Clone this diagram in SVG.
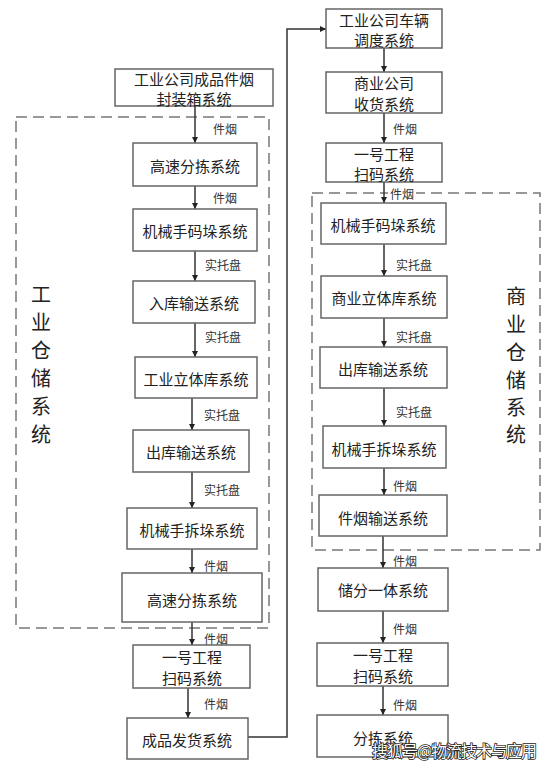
<svg xmlns="http://www.w3.org/2000/svg" width="554" height="768" viewBox="0 0 554 768">
<style>
.box{fill:#fff;stroke:#666;stroke-width:1.5}
.t{font-family:"Noto Sans CJK SC","Microsoft YaHei",sans-serif;font-size:15px;fill:#222;text-anchor:middle;dominant-baseline:central}
.l{font-family:"Noto Sans CJK SC","Microsoft YaHei",sans-serif;font-size:12px;fill:#333;dominant-baseline:central}
.v{font-family:"Noto Sans CJK SC","Microsoft YaHei",sans-serif;font-size:20px;fill:#222;text-anchor:middle;dominant-baseline:central}
.dash{fill:none;stroke:#777;stroke-width:1.5;stroke-dasharray:11 6}
.c{fill:none;stroke:#333;stroke-width:1.5}
.wm{font-family:"Noto Sans CJK SC","Microsoft YaHei",sans-serif;font-size:16px;fill:#fff;stroke:#222;stroke-width:1.6;paint-order:stroke}
</style>
<defs>
<marker id="ah" viewBox="0 0 10 10" refX="10" refY="5" markerWidth="6" markerHeight="6" markerUnits="userSpaceOnUse" orient="auto">
<path d="M0,0 L10,5 L0,10 z" fill="#222"/>
</marker>
</defs>
<rect width="554" height="768" fill="#fff"/>

<g id="groups">
<rect class="dash" x="16" y="117" width="253" height="511"/>
<rect class="dash" x="312" y="193" width="228" height="357"/>
<text class="v" x="41" y="293">工</text>
<text class="v" x="41" y="321">业</text>
<text class="v" x="41" y="349">仓</text>
<text class="v" x="41" y="377">储</text>
<text class="v" x="41" y="405">系</text>
<text class="v" x="41" y="433">统</text>
<text class="v" x="516" y="295">商</text>
<text class="v" x="516" y="323">业</text>
<text class="v" x="516" y="351">仓</text>
<text class="v" x="516" y="379">储</text>
<text class="v" x="516" y="406">系</text>
<text class="v" x="516" y="433">统</text>
</g>

<g id="connectors">
<line class="c" x1="195" y1="106" x2="195" y2="143" marker-end="url(#ah)"/>
<line class="c" x1="195" y1="186" x2="195" y2="209" marker-end="url(#ah)"/>
<line class="c" x1="195" y1="251" x2="195" y2="281" marker-end="url(#ah)"/>
<line class="c" x1="195" y1="323" x2="195" y2="357" marker-end="url(#ah)"/>
<line class="c" x1="192" y1="398" x2="192" y2="430" marker-end="url(#ah)"/>
<line class="c" x1="192" y1="472" x2="192" y2="508" marker-end="url(#ah)"/>
<line class="c" x1="192" y1="549" x2="192" y2="573" marker-end="url(#ah)"/>
<line class="c" x1="192" y1="622" x2="192" y2="645" marker-end="url(#ah)"/>
<line class="c" x1="188" y1="688" x2="188" y2="718" marker-end="url(#ah)"/>
<polyline class="c" points="248,737 287,737 287,29 326,29" marker-end="url(#ah)"/>
<line class="c" x1="384" y1="48" x2="384" y2="72" marker-end="url(#ah)"/>
<line class="c" x1="384" y1="113" x2="384" y2="143" marker-end="url(#ah)"/>
<line class="c" x1="384" y1="182" x2="384" y2="203" marker-end="url(#ah)"/>
<line class="c" x1="384" y1="244" x2="384" y2="276" marker-end="url(#ah)"/>
<line class="c" x1="384" y1="318" x2="384" y2="347" marker-end="url(#ah)"/>
<line class="c" x1="384" y1="388" x2="384" y2="426" marker-end="url(#ah)"/>
<line class="c" x1="384" y1="468" x2="384" y2="495" marker-end="url(#ah)"/>
<line class="c" x1="383" y1="536" x2="383" y2="568" marker-end="url(#ah)"/>
<line class="c" x1="383" y1="611" x2="383" y2="643" marker-end="url(#ah)"/>
<line class="c" x1="383" y1="686" x2="383" y2="715" marker-end="url(#ah)"/>
<text class="l" x="213" y="128">件烟</text>
<text class="l" x="213" y="197">件烟</text>
<text class="l" x="205" y="264">实托盘</text>
<text class="l" x="205" y="336">实托盘</text>
<text class="l" x="204" y="414">实托盘</text>
<text class="l" x="204" y="489">实托盘</text>
<text class="l" x="204" y="565">件烟</text>
<text class="l" x="204" y="638">件烟</text>
<text class="l" x="204" y="703">件烟</text>
<text class="l" x="393" y="128">件烟</text>
<rect x="388" y="186" width="28" height="14" fill="#fff"/>
<text class="l" x="390" y="193">件烟</text>
<text class="l" x="396" y="264">实托盘</text>
<text class="l" x="396" y="336">实托盘</text>
<text class="l" x="396" y="411">实托盘</text>
<text class="l" x="393" y="485">件烟</text>
<text class="l" x="393" y="560">件烟</text>
<text class="l" x="393" y="628">件烟</text>
<text class="l" x="393" y="704">件烟</text>
</g>

<g id="n1"><rect class="box" x="115" y="69" width="158" height="37"/><text class="t" x="194" y="78">工业公司成品件烟</text><text class="t" x="194" y="98">封装箱系统</text></g>
<g id="n2"><rect class="box" x="133" y="143" width="124" height="43"/><text class="t" x="195" y="165">高速分拣系统</text></g>
<g id="n3"><rect class="box" x="133" y="209" width="124" height="42"/><text class="t" x="195" y="230">机械手码垛系统</text></g>
<g id="n4"><rect class="box" x="133" y="281" width="122" height="42"/><text class="t" x="194" y="302">入库输送系统</text></g>
<g id="n5"><rect class="box" x="135" y="357" width="122" height="41"/><text class="t" x="196" y="378">工业立体库系统</text></g>
<g id="n6"><rect class="box" x="133" y="430" width="116" height="42"/><text class="t" x="191" y="451">出库输送系统</text></g>
<g id="n7"><rect class="box" x="127" y="508" width="130" height="41"/><text class="t" x="192" y="529">机械手拆垛系统</text></g>
<g id="n8"><rect class="box" x="122" y="573" width="140" height="49"/><text class="t" x="192" y="599">高速分拣系统</text></g>
<g id="n9"><rect class="box" x="133" y="645" width="117" height="43"/><text class="t" x="192" y="656">一号工程</text><text class="t" x="192" y="677">扫码系统</text></g>
<g id="n10"><rect class="box" x="127" y="718" width="121" height="41"/><text class="t" x="187" y="739">成品发货系统</text></g>
<g id="n11"><rect class="box" x="326" y="9" width="116" height="39"/><text class="t" x="384" y="19">工业公司车辆</text><text class="t" x="384" y="39">调度系统</text></g>
<g id="n12"><rect class="box" x="326" y="72" width="116" height="41"/><text class="t" x="384" y="82">商业公司</text><text class="t" x="384" y="103">收货系统</text></g>
<g id="n13"><rect class="box" x="326" y="143" width="116" height="39"/><text class="t" x="384" y="153">一号工程</text><text class="t" x="384" y="173">扫码系统</text></g>
<g id="n14"><rect class="box" x="321" y="203" width="125" height="41"/><text class="t" x="383" y="224">机械手码垛系统</text></g>
<g id="n15"><rect class="box" x="321" y="276" width="126" height="42"/><text class="t" x="384" y="297">商业立体库系统</text></g>
<g id="n16"><rect class="box" x="320" y="347" width="127" height="41"/><text class="t" x="383" y="368">出库输送系统</text></g>
<g id="n17"><rect class="box" x="323" y="426" width="123" height="42"/><text class="t" x="384" y="448">机械手拆垛系统</text></g>
<g id="n18"><rect class="box" x="319" y="495" width="128" height="41"/><text class="t" x="383" y="517">件烟输送系统</text></g>
<g id="n19"><rect class="box" x="318" y="568" width="130" height="43"/><text class="t" x="383" y="589">储分一体系统</text></g>
<g id="n20"><rect class="box" x="317" y="643" width="131" height="43"/><text class="t" x="383" y="654">一号工程</text><text class="t" x="383" y="675">扫码系统</text></g>
<g id="n21"><rect class="box" x="317" y="715" width="131" height="42"/><text class="t" x="383" y="737">分拣系统</text></g>

<text class="wm" x="372" y="757" textLength="165">搜狐号@物流技术与应用</text>
</svg>
